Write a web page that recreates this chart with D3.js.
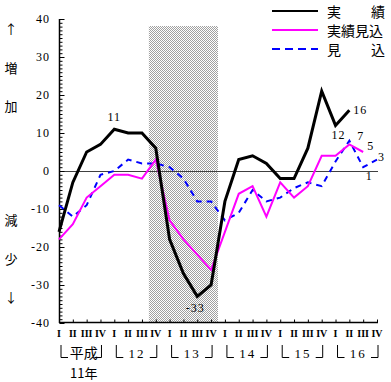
<!DOCTYPE html>
<html><head><meta charset="utf-8">
<script src="https://cdn.jsdelivr.net/npm/d3@7"></script>
<style>body{margin:0;background:#fff}svg{display:block}</style></head>
<body><svg id="c" width="391" height="382"></svg>
<script>
// ---- data ----
const years = ["11", "12", "13", "14", "15", "16"];
const quarterNames = ["I", "II", "III", "IV"];
const jisseki =       [-16, -3, 5, 7, 11, 10, 10, 6, -18, -27, -33, -30, -8, 3, 4, 2, -2, -2, 6, 21, 12, 16];
const jissekiMikomi = [-18, -14, -7, -4, -1, -1, -2, 3, -13, -18, -22, -26, -16, -6, -4, -12, -3, -7, -4, 4, 4, 7, 5];
const mikomi =        [-9, -12, -9, -1, 0, 3, 2, 2, 1, -2, -8, -8, -13, -11, -5, -8, -7, -4.5, -3, -4, 2.5, 8, 1, 3];
const yTicks = [40, 30, 20, 10, 0, -10, -20, -30, -40];
const seriesNames = ["実績", "実績見込", "見込"];
const shadeFrom = "12-IV", shadeTo = "13-IV";
const pointLabels = [
  {s: 0, i: 4, t: "11"}, {s: 0, i: 10, t: "-33"}, {s: 0, i: 21, t: "16"}, {s: 0, i: 20, t: "12"},
  {s: 1, i: 21, t: "7"}, {s: 1, i: 22, t: "5"}, {s: 2, i: 22, t: "1"}, {s: 2, i: 23, t: "3"}
];

// ---- layout ----
const keys = [];
years.forEach(y => quarterNames.forEach(q => keys.push(y + "-" + q)));
const svg = d3.select("#c");
const x = d3.scalePoint().domain(keys).range([59, 377]);
const y = d3.scaleLinear().domain([-40, 40]).range([323, 19]);
const step = x.step();
const numFont = "'Liberation Serif', serif";
const cjkFont = "'Noto Sans CJK JP', sans-serif";

// shading pattern
const defs = svg.append("defs");
const pat = defs.append("pattern").attr("id", "chk").attr("width", 2).attr("height", 2)
  .attr("patternUnits", "userSpaceOnUse");
pat.append("rect").attr("width", 2).attr("height", 2).attr("fill", "#fff");
pat.append("rect").attr("width", 1).attr("height", 1).attr("fill", "#a0a0a0");
pat.append("rect").attr("x", 1).attr("y", 1).attr("width", 1).attr("height", 1).attr("fill", "#a0a0a0");
svg.append("rect")
  .attr("x", x(shadeFrom) - step / 2).attr("y", 26)
  .attr("width", x(shadeTo) - x(shadeFrom) + step).attr("height", y(-40) - 26)
  .attr("fill", "url(#chk)");

// zero line
svg.append("line").attr("x1", x(keys[0])).attr("x2", x(keys[keys.length - 1]) + 1)
  .attr("y1", y(0) + 0.5).attr("y2", y(0) + 0.5).attr("stroke", "#404040").attr("stroke-width", 1);

// y axis
const ya = svg.append("g").attr("transform", `translate(${x(keys[0]) + 0.5},0)`)
  .call(d3.axisRight(y).tickValues(d3.range(-40, 41, 1)).tickSize(3).tickFormat(""));
ya.select(".domain").attr("stroke", "#000").attr("stroke-width", 1.5).attr("d", `M0,${y(40)}V${y(-40)}`);
ya.selectAll(".tick line").attr("stroke", "#000").attr("x2", d => d % 10 === 0 ? 5 : 3);
svg.append("g").selectAll("text").data(yTicks).join("text")
  .attr("x", 50).attr("y", d => y(d) + 4).attr("text-anchor", "end")
  .attr("font-family", numFont).attr("font-size", 12).attr("letter-spacing", 1)
  .text(d => d);

// x axis
const xa = svg.append("g").attr("transform", `translate(0,${y(-40) - 0.5})`)
  .call(d3.axisTop(x).tickSize(3).tickFormat(""));
xa.select(".domain").attr("stroke", "#000").attr("stroke-width", 1.5)
  .attr("d", `M${x(keys[0])},0H${x(keys[keys.length - 1]) + 1}`);
xa.selectAll(".tick line").attr("stroke", "#000");
svg.append("g").selectAll("text").data(keys).join("text")
  .attr("x", d => x(d)).attr("y", 337).attr("text-anchor", "middle")
  .attr("font-family", numFont).attr("font-size", 10).attr("font-weight", "bold")
  .text(d => d.split("-")[1]);

// year brackets
years.forEach((yr, g) => {
  const x0 = x(keys[g * 4]), x3 = x(keys[g * 4 + 3]);
  const mid = (x(keys[g * 4 + 1]) + x(keys[g * 4 + 2])) / 2;
  svg.append("path").attr("d", `M${x0 + 2},345V357.5H${x0 + 9}`).attr("fill", "none").attr("stroke", "#000");
  svg.append("path").attr("d", `M${x3 - 6},357.5H${x3 + 1}V345`).attr("fill", "none").attr("stroke", "#000");
  if (g === 0) {
    svg.append("text").attr("x", mid + 4).attr("y", 358).attr("text-anchor", "middle")
      .attr("font-family", cjkFont).attr("font-size", 14).text("平成");
    svg.append("text").attr("x", mid + 4).attr("y", 378).attr("text-anchor", "middle")
      .attr("font-family", cjkFont).attr("font-size", 13).text(yr + "年");
  } else {
    svg.append("text").attr("x", mid + 2).attr("y", 358).attr("text-anchor", "middle")
      .attr("font-family", numFont).attr("font-size", 13).attr("letter-spacing", 2).text(yr);
  }
});

// left side labels
const sideLabels = [["↑", 34], ["増", 73], ["加", 111], ["減", 225], ["少", 264], ["↓", 302]];
svg.append("g").selectAll("text").data(sideLabels).join("text")
  .attr("x", 11).attr("y", d => d[1]).attr("text-anchor", "middle")
  .attr("font-family", cjkFont).attr("font-size", 13).text(d => d[0]);

// series
const series = [
  {v: jisseki, color: "#000", w: 3, dash: null},
  {v: jissekiMikomi, color: "#ff00ff", w: 2, dash: null},
  {v: mikomi, color: "#0000ff", w: 2, dash: "6,5"}
];
const line = d3.line().x((d, i) => x(keys[i])).y(d => y(d));
series.slice().reverse().forEach(s => {
  svg.append("path").datum(s.v).attr("d", line).attr("fill", "none")
    .attr("stroke", s.color).attr("stroke-width", s.w)
    .attr("stroke-linejoin", "miter").attr("stroke-dasharray", s.dash);
});

// point labels
const labelOffsets = {"0-4": [0, -8, "middle"], "0-10": [-2, 16, "middle"], "0-21": [4, 4, "start"],
  "0-20": [3, 14, "middle"], "1-21": [8, -4, "start"], "1-22": [4, -2, "start"],
  "2-22": [6, 13, "middle"], "2-23": [1, 1, "start"]};
pointLabels.forEach(p => {
  const o = labelOffsets[p.s + "-" + p.i];
  svg.append("text").attr("x", x(keys[p.i]) + o[0]).attr("y", y(series[p.s].v[p.i]) + o[1])
    .attr("text-anchor", o[2]).attr("font-family", numFont).attr("font-size", 12)
    .attr("letter-spacing", 1).text(p.t);
});

// legend
const lg = svg.append("g");
seriesNames.forEach((n, i) => {
  const ly = 11 + i * 19;
  lg.append("line").attr("x1", 272).attr("x2", 318).attr("y1", ly).attr("y2", ly)
    .attr("stroke", series[i].color).attr("stroke-width", 2)
    .attr("stroke-dasharray", series[i].dash ? "8,5" : null);
  if (n.length === 2) {
    lg.append("text").attr("x", 327).attr("y", ly + 6).attr("font-family", cjkFont).attr("font-size", 14).text(n[0]);
    lg.append("text").attr("x", 371).attr("y", ly + 6).attr("font-family", cjkFont).attr("font-size", 14).text(n[1]);
  } else {
    lg.append("text").attr("x", 327).attr("y", ly + 6).attr("font-family", cjkFont).attr("font-size", 14).text(n);
  }
});
</script></body></html>
